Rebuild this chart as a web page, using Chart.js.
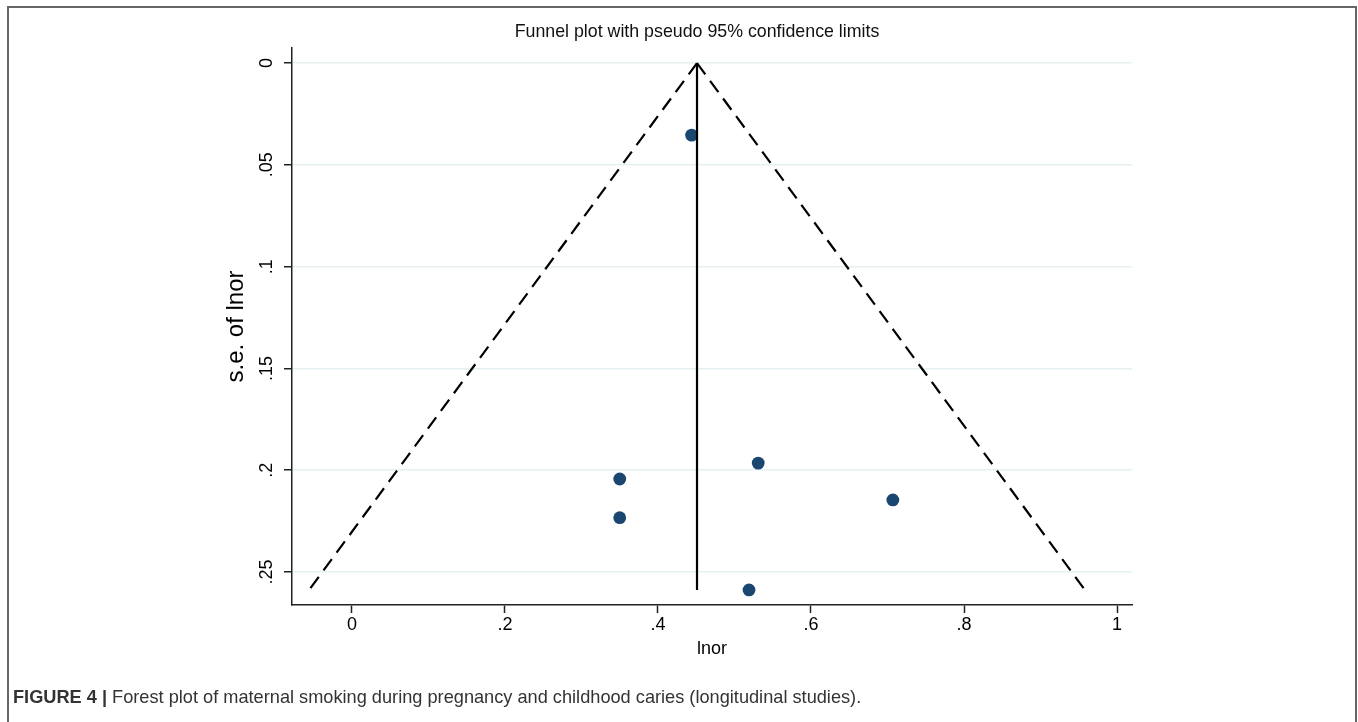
<!DOCTYPE html>
<html>
<head>
<meta charset="utf-8">
<script src="https://cdn.jsdelivr.net/npm/chart.js@4/dist/chart.umd.min.js"></script>
<style>
    body { margin: 0; background: #fff; }
    #frame {
        position: absolute; left: 7px; top: 6px; width: 1346px; height: 730px;
        border: 2px solid #666; border-bottom: none;
    }
    #chart { position: absolute; left: 0; top: 0; }
    #title {
        position: absolute; left: 397px; width: 600px; top: 21px; text-align: center;
        font-family: "Liberation Sans", Arial, sans-serif; font-size: 17.8px; color: #111;
    }
    #caption {
        position: absolute; left: 13px; top: 687px;
        font-family: "Liberation Sans", Arial, sans-serif; font-size: 18.2px; color: #333;
        white-space: nowrap;
    }
</style>
</head>
<body>
<div id="frame"></div>
<canvas id="chart" width="1358" height="722"></canvas>
<div id="title">Funnel plot with pseudo 95% confidence limits</div>
<div id="caption"><b>FIGURE 4 |</b> Forest plot of maternal smoking during pregnancy and childhood caries (longitudinal studies).</div>
<script>
// study estimates
const lnor = [0.444, 0.350, 0.350, 0.531, 0.707, 0.519];
const seLnor = [0.0354, 0.2043, 0.2233, 0.1965, 0.2146, 0.2588];

// pooled estimate and pseudo 95% limits (apex, bottom end)
const pooledX = [0.451, 0.451];
const funnelY = [0, 0.2588];
const leftLimitX = [0.451, -0.056];
const rightLimitX = [0.451, 0.958];

// axes
const xTicks = [0, 0.2, 0.4, 0.6, 0.8, 1];
const yTicks = [0, 0.05, 0.1, 0.15, 0.2, 0.25];

const stataLabel = (v) => {
    const s = String(+Number(v).toFixed(2));
    return s.replace(/^0\./, ".");
};
const pairs = (xs, ys) => xs.map((x, i) => ({x: x, y: ys[i]}));

const font = "'Liberation Sans', Arial, sans-serif";
Chart.defaults.font.family = font;
Chart.defaults.color = "#000";

const lineStyle = {
    showLine: true,
    borderColor: "#000",
    borderWidth: 2.2,
    pointRadius: 0,
    fill: false
};

new Chart(document.getElementById("chart").getContext("2d"), {
    type: "scatter",
    data: {
        datasets: [
            {
                label: "studies",
                data: pairs(lnor, seLnor),
                backgroundColor: "#1a476f",
                borderWidth: 0,
                pointRadius: 6.4,
                order: 2
            },
            Object.assign({label: "lower", data: pairs(leftLimitX, funnelY), borderDash: [14, 8], order: 1}, lineStyle),
            Object.assign({label: "upper", data: pairs(rightLimitX, funnelY), borderDash: [14, 8], order: 1}, lineStyle),
            Object.assign({label: "pooled", data: pairs(pooledX, funnelY), order: 1}, lineStyle)
        ]
    },
    options: {
        responsive: false,
        animation: false,
        layout: {padding: {left: 200, right: 226, top: 48, bottom: 57}},
        plugins: {
            legend: {display: false},
            tooltip: {enabled: false},
            title: {display: false}
        },
        scales: {
            x: {
                type: "linear",
                min: -0.0784,
                max: 1.0196,
                afterBuildTicks: (scale) => { scale.ticks = xTicks.map(v => ({value: v})); },
                afterFit: (scale) => { scale.height = 60; },
                ticks: {callback: stataLabel, font: {size: 18}, padding: 1, maxRotation: 0},
                grid: {drawOnChartArea: false, tickLength: 8, tickColor: "#222", tickWidth: 1.5},
                border: {color: "#222", width: 1.5},
                title: {display: true, text: "lnor", font: {size: 18}, padding: {top: 0, bottom: 5}}
            },
            y: {
                type: "linear",
                reverse: true,
                min: -0.0074,
                max: 0.2662,
                afterBuildTicks: (scale) => { scale.ticks = yTicks.map(v => ({value: v})); },
                afterFit: (scale) => { scale.width = 92; },
                ticks: {
                    callback: stataLabel, font: {size: 18}, padding: 4,
                    minRotation: 90, maxRotation: 90, crossAlign: "center"
                },
                grid: {color: "#e6eff1", lineWidth: 1.5, tickLength: 8, tickColor: "#222", tickWidth: 1.5},
                border: {color: "#222", width: 1.5},
                title: {display: true, text: "s.e. of lnor", font: {size: 24}, padding: {top: 22, bottom: 0}}
            }
        }
    }
});
</script>
</body>
</html>
